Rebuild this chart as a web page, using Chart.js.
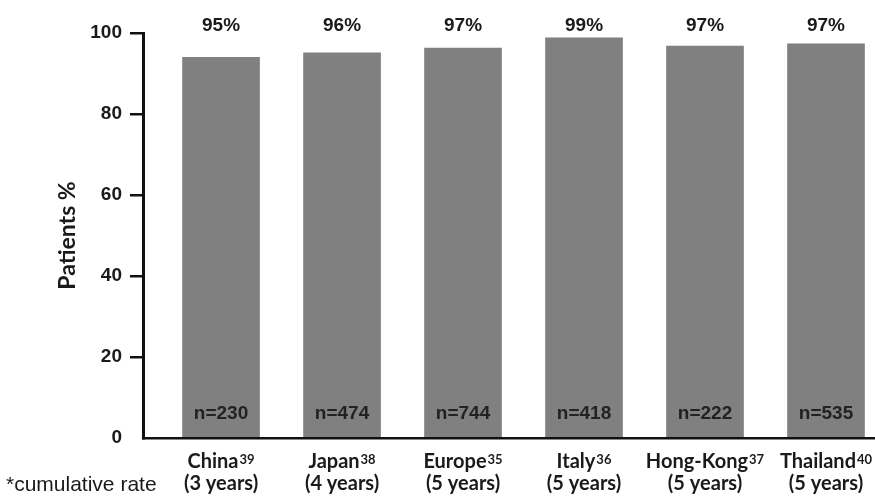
<!DOCTYPE html>
<html>
<head>
<meta charset="utf-8">
<script src="https://cdn.jsdelivr.net/npm/chart.js@4.4.0/dist/chart.umd.min.js"></script>
<style>
  html, body { margin: 0; padding: 0; background: #ffffff; }
  #wrap { width: 875px; height: 498px; position: relative; }
</style>
</head>
<body>
<div id="wrap"><canvas id="c" width="875" height="498"></canvas></div>
<script>
const countries = ['China', 'Japan', 'Europe', 'Italy', 'Hong-Kong', 'Thailand'];
const refs = ['39', '38', '35', '36', '37', '40'];
const periods = ['(3 years)', '(4 years)', '(5 years)', '(5 years)', '(5 years)', '(5 years)'];
const values = [94.0, 95.1, 96.3, 98.8, 96.8, 97.3];
const rateLabels = ['95%', '96%', '97%', '99%', '97%', '97%'];
const sampleSizes = [230, 474, 744, 418, 222, 535];
const yTicks = [0, 20, 40, 60, 80, 100];
const footnote = '*cumulative rate';
const yTitle = 'Patients %';

const INK = '#1a1a1a';
const CAL = '"Lato", "Open Sans", sans-serif';
const ARI = '"Liberation Sans", Arial, sans-serif';

const labelPlugin = {
  id: 'labels',
  afterDatasetsDraw(chart) {
    const ctx = chart.ctx;
    const xs = chart.scales.x;
    const ys = chart.scales.y;
    ctx.save();
    ctx.fillStyle = INK;
    ctx.textBaseline = 'alphabetic';
    values.forEach((v, i) => {
      const cx = xs.getPixelForValue(i + 1);
      // rate labels above plot
      ctx.font = 'bold 19px ' + ARI;
      ctx.textAlign = 'center';
      ctx.fillText(rateLabels[i], cx, ys.top - 2);
      // n labels inside bars
      ctx.font = 'bold 19px ' + ARI;
      ctx.fillStyle = '#222222';
      ctx.fillText('n=' + sampleSizes[i], cx, ys.bottom - 19);
      ctx.fillStyle = INK;
      // category label with superscript
      ctx.font = 'bold 20px ' + CAL;
      const w1 = ctx.measureText(countries[i]).width;
      ctx.font = 'bold 13px ' + CAL;
      const w2 = ctx.measureText(refs[i]).width;
      const start = cx - (w1 + w2 + 1) / 2;
      ctx.textAlign = 'left';
      ctx.font = 'bold 20px ' + CAL;
      ctx.fillText(countries[i], start, ys.bottom + 30);
      ctx.font = 'bold 13px ' + CAL;
      ctx.fillText(refs[i], start + w1 + 1, ys.bottom + 26);
      ctx.textAlign = 'center';
      ctx.font = 'bold 20px ' + CAL;
      ctx.fillText(periods[i], cx, ys.bottom + 52);
    });
    ctx.font = '21px ' + ARI;
    ctx.textAlign = 'left';
    ctx.fillText(footnote, 6, ys.bottom + 53);
    ctx.restore();
  }
};

new Chart(document.getElementById('c'), {
  type: 'bar',
  data: {
    datasets: [{
      data: values.map((v, i) => ({ x: i + 1, y: v })),
      backgroundColor: '#808080',
      borderWidth: 0,
      barThickness: 77
    }]
  },
  options: {
    responsive: false,
    animation: false,
    devicePixelRatio: 1,
    layout: { padding: { top: 33, right: 0, left: 0, bottom: 0 } },
    plugins: { legend: { display: false }, tooltip: { enabled: false } },
    scales: {
      x: {
        type: 'linear',
        offset: false,
        min: 0.355,
        max: 6.405,
        afterFit(s) { s.height = 60; },
        ticks: { display: false },
        grid: { display: false, drawTicks: false, offset: false },
        border: { display: true, color: '#111111', width: 2.5 }
      },
      y: {
        min: 0,
        max: 100,
        afterFit(s) { s.width = 143; },
        afterBuildTicks(s) { s.ticks = yTicks.map(v => ({ value: v })); },
        ticks: {
          color: INK,
          font: { family: ARI, weight: 'bold', size: 19 },
          padding: 8
        },
        grid: {
          drawOnChartArea: false,
          drawTicks: true,
          tickLength: 13,
          lineWidth: 2.5,
          color: (c) => (c.tick && c.tick.value === 0) ? 'rgba(0,0,0,0)' : '#111111'
        },
        border: { display: true, color: '#111111', width: 3 },
        title: {
          display: true,
          text: yTitle,
          color: INK,
          font: { family: CAL, weight: 'bold', size: 23 },
          padding: { top: 54, bottom: 0 }
        }
      }
    }
  },
  plugins: [labelPlugin]
});
</script>
</body>
</html>
